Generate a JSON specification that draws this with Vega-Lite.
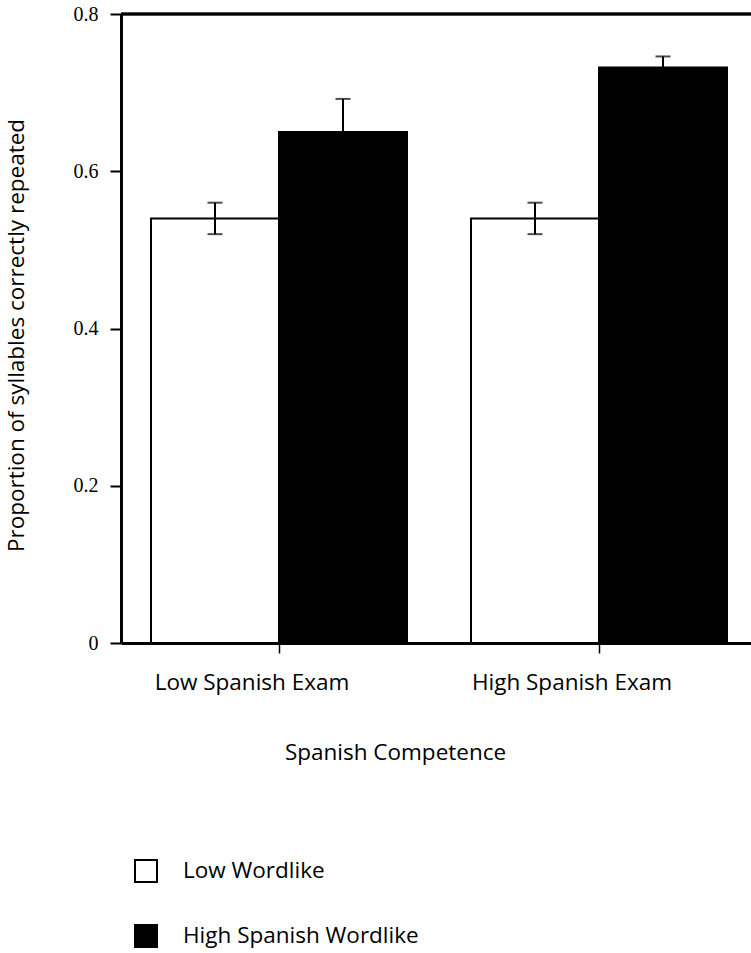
{
  "$schema": "https://vega.github.io/schema/vega-lite/v6.json",
  "width": 630,
  "height": 629,
  "autosize": "none",
  "padding": {"left": 121, "top": 14, "right": 0, "bottom": 310},
  "background": "white",
  "config": {
    "view": {"stroke": null},
    "font": "Open Sans"
  },
  "data": {
    "values": [
      {"group": "Low Spanish Exam", "wordlike": "Low Wordlike", "mean": 0.54, "lo": 0.52, "hi": 0.56},
      {"group": "Low Spanish Exam", "wordlike": "High Spanish Wordlike", "mean": 0.65, "lo": 0.61, "hi": 0.692},
      {"group": "High Spanish Exam", "wordlike": "Low Wordlike", "mean": 0.54, "lo": 0.52, "hi": 0.56},
      {"group": "High Spanish Exam", "wordlike": "High Spanish Wordlike", "mean": 0.732, "lo": 0.718, "hi": 0.746}
    ]
  },
  "encoding": {
    "x": {
      "field": "group",
      "type": "nominal",
      "sort": ["Low Spanish Exam", "High Spanish Exam"],
      "scale": {"range": [0, 636], "paddingInner": 0.2, "paddingOuter": 0.09375},
      "title": "Spanish Competence",
      "axis": {
        "labelAngle": 0,
        "labelFont": "Open Sans",
        "labelFontSize": 22.5,
        "labelColor": "black",
        "labelBaseline": "alphabetic",
        "labelPadding": 36,
        "labelOffset": -27,
        "labelLimit": 600,
        "domainColor": "black",
        "domainWidth": 3,
        "tickColor": "black",
        "tickWidth": 1.5,
        "tickSize": 10,
        "grid": false,
        "titleFont": "Open Sans",
        "titleFontSize": 22.5,
        "titleFontWeight": "normal",
        "titleColor": "black",
        "titleX": 274,
        "titleY": 116,
        "titleBaseline": "alphabetic",
        "titleAlign": "center"
      }
    },
    "xOffset": {
      "field": "wordlike",
      "type": "nominal",
      "sort": ["Low Wordlike", "High Spanish Wordlike"],
      "scale": {"paddingInner": 0, "paddingOuter": 0}
    }
  },
  "layer": [
    {
      "mark": {"type": "bar", "stroke": "black", "strokeWidth": 2},
      "encoding": {
        "y": {
          "field": "mean",
          "type": "quantitative",
          "scale": {"domain": [0, 0.8], "nice": false},
          "title": "Proportion of syllables correctly repeated",
          "axis": {
            "values": [0, 0.2, 0.4, 0.6, 0.8],
            "format": "~g",
            "grid": false,
            "labelFont": "Liberation Serif",
            "labelFontSize": 20,
            "labelColor": "black",
            "labelPadding": 12,
            "domainColor": "black",
            "domainWidth": 3,
            "tickColor": "black",
            "tickWidth": 2,
            "tickSize": 11,
            "titleFont": "Open Sans",
            "titleFontSize": 22.5,
            "titleFontWeight": "normal",
            "titleColor": "black",
            "titleX": -105,
            "titleY": 321,
            "titleBaseline": "middle",
            "titleAlign": "center",
            "titleAngle": -90
          }
        },
        "fill": {
          "field": "wordlike",
          "type": "nominal",
          "scale": {"domain": ["Low Wordlike", "High Spanish Wordlike"], "range": ["white", "black"]},
          "legend": {
            "orient": "none",
            "legendX": 13,
            "legendY": 845,
            "title": null,
            "padding": 0,
            "rowPadding": 35,
            "symbolType": "square",
            "symbolSize": 484,
            "symbolStrokeColor": "black",
            "symbolStrokeWidth": 2,
            "labelFont": "Open Sans",
            "labelFontSize": 22.5,
            "labelColor": "black",
            "labelOffset": 25,
            "labelLimit": 600
          }
        }
      }
    },
    {
      "mark": {"type": "rule", "color": "black", "strokeWidth": 2},
      "encoding": {
        "y": {"field": "lo", "type": "quantitative"},
        "y2": {"field": "hi"}
      }
    },
    {
      "mark": {"type": "tick", "color": "black", "thickness": 2, "size": 15},
      "encoding": {"y": {"field": "lo", "type": "quantitative"}}
    },
    {
      "mark": {"type": "tick", "color": "black", "thickness": 2, "size": 15},
      "encoding": {"y": {"field": "hi", "type": "quantitative"}}
    },
    {
      "mark": {"type": "rule", "color": "black", "strokeWidth": 2.5},
      "encoding": {"y": {"datum": 0.8}, "x": {"value": 0}, "x2": {"value": 630}, "xOffset": null}
    }
  ]
}
